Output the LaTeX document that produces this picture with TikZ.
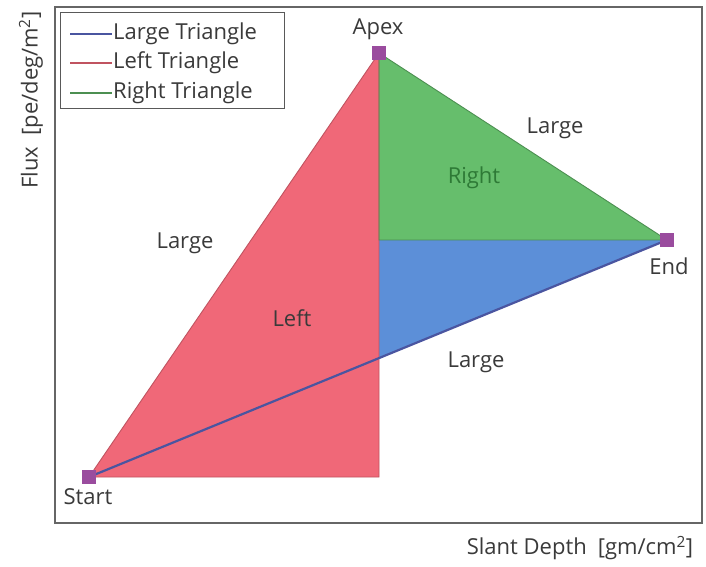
\documentclass[tikz,border=0pt]{standalone}
\usepackage{fontspec}
\setmainfont{Open Sans}
\usepackage{xcolor}
\definecolor{leftfill}{HTML}{F06878}
\definecolor{rightfill}{HTML}{66BE6C}
\definecolor{lowfill}{HTML}{5C8FD8}
\definecolor{largeline}{HTML}{4A55A0}
\definecolor{mark}{HTML}{9A4C9E}
\definecolor{ink}{HTML}{3A3A3A}
\definecolor{rightink}{HTML}{2E7A36}

\begin{document}
\begin{tikzpicture}[x=1pt, y=-1pt, every node/.style={font=\fontsize{22}{25}\selectfont, text=ink},
  corner/.style={fill=mark, minimum size=14pt, inner sep=0pt}]
  \useasboundingbox (0,0) rectangle (706,566);
  \fill[white] (0,0) rectangle (706,566);
  \draw[gray!80!black, line width=1.2pt] (55,7) rectangle (702,523);
  % the three corners
  \coordinate (foot) at (379,477);
  \coordinate (mid) at (379,240);
  \coordinate (cross) at (379,358);
  \node[corner] (start) at (89,477) {};
  \node[corner] (apex) at (379,53) {};
  \node[corner] (end) at (667,240) {};
  % filled pieces
  \fill[leftfill] (start.center) -- (apex.center) -- (foot) -- cycle;
  \fill[rightfill] (apex.center) -- (end.center) -- (mid) -- cycle;
  \fill[lowfill] (mid) -- (end.center) -- (cross) -- cycle;
  \draw[leftfill!80!black, line width=0.9pt] (start.center) -- (apex.center) -- (foot) -- cycle;
  \draw[rightfill!75!black, line width=0.9pt] (apex.center) -- (end.center) -- (mid) -- cycle;
  \draw[largeline, line width=2.2pt] (start.center) -- (end.center);
  \node[corner] at (start) {};
  \node[corner] at (apex) {};
  \node[corner] at (end) {};
  % corner and side labels
  \node (startlbl) at (88,497) {Start};
  \node (apexlbl) at (378,29) {Apex};
  \node (endlbl) at (669,266) {End};
  \node (largeA) at (185,243) {Large};
  \node (largeB) at (555,128) {Large};
  \node (largeC) at (476,362) {Large};
  \node (leftlbl) at (292,318) {Left};
  \node[text=rightink] (rightlbl) at (474,178) {Right};
  % legend
  \draw[gray!70!black, line width=0.6pt, fill=white] (60,12) rectangle (284,108);
  \foreach \y/\c/\t in {34/largeline/Large Triangle, 63/leftfill!80!black/Left Triangle, 93/rightfill!75!black/Right Triangle}{
    \draw[\c, line width=2pt] (70,\y) -- (112,\y);
    \node[anchor=west, inner sep=1pt] at (112,\y) {\t};
  }
  % axis titles
  \node[rotate=90] (ylbl) at (31,100) {Flux\enspace[pe/deg/m\textsuperscript{2}]};
  \node (xlbl) at (580,548) {Slant Depth\enspace[gm/cm\textsuperscript{2}]};
\end{tikzpicture}
\end{document}
